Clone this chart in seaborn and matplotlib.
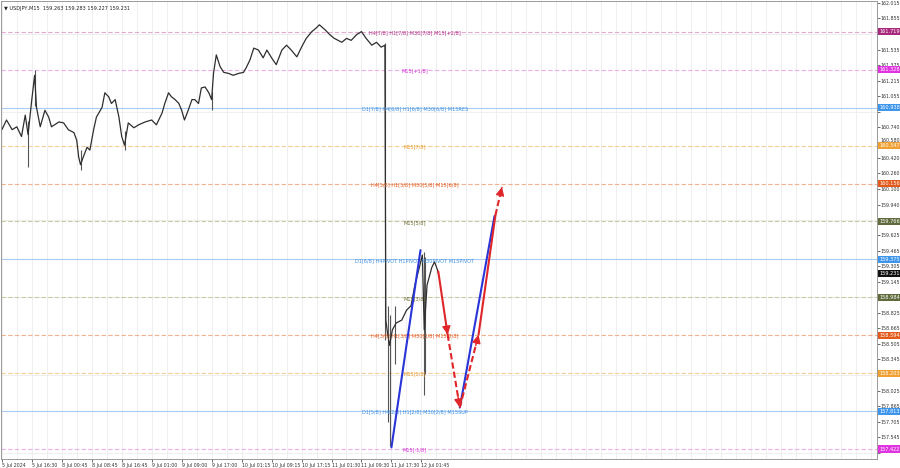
import numpy as np
import pandas as pd
import seaborn as sns
import matplotlib.pyplot as plt
from matplotlib.ticker import FixedLocator, MultipleLocator
from matplotlib.transforms import ScaledTranslation

# Header text
SYMBOL_INFO = 'USDJPY,M15  159.263 159.283 159.227 159.231'

# Price path (M15 bar index, price)
bar_idx = [0, 5, 11, 16, 21, 25, 28, 32, 35, 37, 41, 46, 50, 53, 61, 66, 71, 77, 80, 82,
           84, 87, 91, 94, 98, 101, 107, 110, 114, 117, 121, 125, 128, 131, 135, 141, 146, 153, 160, 165,
           171, 174, 178, 181, 185, 189, 192, 195, 199, 203, 206, 210, 213, 217, 221, 224, 226, 229, 233, 237,
           242, 247, 253, 258, 261, 265, 269, 274, 279, 283, 288, 293, 299, 304, 309, 315, 320, 325, 331, 336,
           339, 345, 350, 355, 363, 368, 373, 379, 384, 389, 395, 400, 405, 409, 410, 412, 414, 417, 421, 427,
           432, 437, 441, 446, 449, 451, 454, 459, 462, 465, 466]
close = [160.71, 160.81, 160.71, 160.74, 160.64, 160.86, 160.66, 161.02, 161.27, 160.94, 160.74, 160.91, 160.84, 160.74, 160.79, 160.78, 160.71, 160.68, 160.60, 160.43,
         160.35, 160.43, 160.53, 160.50, 160.71, 160.84, 160.94, 161.09, 161.05, 160.98, 161.02, 160.84, 160.64, 160.55, 160.78, 160.73, 160.76, 160.79, 160.81, 160.76,
         160.88, 160.98, 161.09, 161.05, 161.02, 160.98, 160.91, 160.81, 160.91, 161.02, 161.02, 160.98, 161.14, 161.15, 161.09, 161.02, 161.29, 161.48, 161.36, 161.30,
         161.29, 161.27, 161.29, 161.30, 161.35, 161.43, 161.55, 161.53, 161.45, 161.53, 161.45, 161.38, 161.53, 161.58, 161.53, 161.46, 161.56, 161.65, 161.72, 161.76,
         161.79, 161.74, 161.69, 161.65, 161.61, 161.65, 161.63, 161.69, 161.72, 161.65, 161.58, 161.61, 161.56, 161.58, 158.75, 158.60, 158.49, 158.65, 158.72, 158.75,
         158.85, 158.90, 159.11, 159.30, 159.42, 158.65, 159.11, 159.29, 159.35, 159.27, 159.23]

# Notable candle wicks
wick_bar = [28, 35, 84, 131, 224, 409, 412, 414, 420, 451, 452]
wick_low = [160.33, 160.95, 160.30, 160.50, 160.91, 158.55, 157.70, 157.45, 158.30, 157.98, 158.20]
wick_high = [160.80, 161.32, 160.50, 160.70, 161.10, 161.60, 158.90, 158.80, 158.90, 159.45, 159.40]

time_labels = ['5 Jul 2024', '5 Jul 16:30', '8 Jul 00:45', '8 Jul 08:45', '8 Jul 16:45',
               '9 Jul 01:00', '9 Jul 09:00', '9 Jul 17:00', '10 Jul 01:15', '10 Jul 09:15',
               '10 Jul 17:15', '11 Jul 01:30', '11 Jul 09:30', '11 Jul 17:30', '12 Jul 01:45']
time_label_bars = [0, 32, 64, 96, 128, 160, 192, 224, 256, 288, 320, 352, 384, 416, 448]

# visible price-axis labels (the rest sit behind level boxes)
price_ticks = [162.015, 161.855, 161.535, 161.375, 161.215, 161.055, 160.740, 160.580,
               160.420, 160.260, 160.100, 159.940, 159.625, 159.465, 159.305, 159.145,
               158.825, 158.665, 158.505, 158.345, 158.025, 157.865, 157.705, 157.545]
grid_ticks = [162.015, 161.855, 161.695, 161.535, 161.375, 161.215, 161.055, 160.895, 160.740, 160.580,
              160.420, 160.260, 160.100, 159.940, 159.785, 159.625, 159.465, 159.305, 159.145, 158.985,
              158.825, 158.665, 158.505, 158.345, 158.185, 158.025, 157.865, 157.705, 157.545, 157.385]

# Murrey-math style levels
levels = [161.719, 161.328, 160.938, 160.547, 160.156, 159.766, 159.375, 158.984, 158.594, 158.203, 157.813, 157.422]
level_names = ['H4[7/8] H1[7/8] M30[7/8] M15[+2/8]', 'M15[+1/8]',
               'D1[7/8] H4[6/8] H1[6/8] M30[6/8] M15RES', 'M15[7/8]',
               'H4[5/8] H1[5/8] M30[5/8] M15[6/8]', 'M15[5/8]',
               'D1[6/8] H4PIVOT H1PIVOT M30PIVOT M15PIVOT', 'M15[3/8]',
               'H4[3/8] H1[3/8] M30[3/8] M15[2/8]', 'M15[1/8]',
               'D1[5/8] H4[2/8] H1[2/8] M30[2/8] M15SUP', 'M15[-1/8]']
current_price = 159.231

# Projection paths
blue1_bar = [416, 447]
blue1_price = [157.44, 159.47]
blue2_bar = [489, 526]
blue2_price = [157.85, 159.82]
red_bar = [466, 476, 489, 509, 527, 534]
red_price = [159.25, 158.60, 157.85, 158.60, 159.83, 160.12]

# level styles: (line colour, text colour, box colour, linestyle)
level_styles = [
    ('#e3a9cf', '#b3338a', '#a8287c', '--'),
    ('#eab0ea', '#d633d6', '#e034e0', '--'),
    ('#a9cdf2', '#3d8fe0', '#3d95ec', '-'),
    ('#f5cf96', '#eb9a2a', '#f0a030', '--'),
    ('#f2b28f', '#e0581e', '#e35a1c', '--'),
    ('#c9c9a4', '#6f6f35', '#5f6b3c', '--'),
    ('#a9cdf2', '#3d8fe0', '#3d95ec', '-'),
    ('#c9c9a4', '#6f6f35', '#5f6b3c', '--'),
    ('#f2b28f', '#e0581e', '#e35a1c', '--'),
    ('#f5cf96', '#eb9a2a', '#f0a030', '--'),
    ('#a9cdf2', '#3d8fe0', '#3d95ec', '-'),
    ('#eab0ea', '#d633d6', '#e034e0', '--'),
]

sns.set_theme(style='white')
plt.rcParams['font.family'] = ['DejaVu Sans']

fig = plt.figure(figsize=(9, 4.68), dpi=100)
ax = fig.add_axes([0.001, 9 / 468, 0.973, 458 / 468])

ax.set_xlim(-1, 934)
ax.set_ylim(157.32, 162.035)

# grid
ax.xaxis.set_minor_locator(MultipleLocator(16))
ax.yaxis.set_minor_locator(FixedLocator(grid_ticks))
ax.yaxis.set_major_locator(FixedLocator(price_ticks))
ax.set_xticks(time_label_bars)
ax.grid(which='both', axis='x', color='#ececec', lw=0.6)
ax.grid(which='minor', axis='y', color='#ececec', lw=0.6)

# level lines and labels
for lv, name, st in zip(levels, level_names, level_styles):
    lc, tc, bc, ls = st
    ax.axhline(lv, color=lc, lw=0.8, ls=ls, dashes=(4, 2) if ls == '--' else (None, None), zorder=1)
    ax.text(441, lv - 0.01, name, color=tc, fontsize=3.6, ha='center', va='center', zorder=3)
    ax.text(1.003, lv, f'{lv:.3f}', transform=ax.get_yaxis_transform(), color='white', fontsize=3.6,
            ha='left', va='center', zorder=5, clip_on=False,
            bbox=dict(boxstyle='square,pad=0.22', fc=bc, ec='none'))

ax.text(1.003, current_price, f'{current_price:.3f}', transform=ax.get_yaxis_transform(), color='white',
        fontsize=3.6, ha='left', va='center', zorder=6, clip_on=False,
        bbox=dict(boxstyle='square,pad=0.22', fc='#111111', ec='none'))

# price
ax.vlines(wick_bar, wick_low, wick_high, color='#555555', lw=0.8, zorder=2)
sns.lineplot(x=bar_idx, y=close, ax=ax, color='#2e2e2e', lw=0.9, zorder=2, sort=False)

# projections
ax.plot(blue1_bar, blue1_price, color='#2a35d8', lw=1.5, zorder=4)
ax.plot(blue2_bar, blue2_price, color='#2a35d8', lw=1.5, zorder=4)
red_ls = ['-', '--', '--', '-', '--']
for i in range(len(red_bar) - 1):
    ax.plot(red_bar[i:i + 2], red_price[i:i + 2], color='#e0262a', lw=1.5, ls=red_ls[i],
            dashes=(3, 1.5) if red_ls[i] == '--' else (None, None), zorder=4)
for i in [0, 1, 2, 4]:
    x0, y0 = red_bar[i], red_price[i]
    x1, y1 = red_bar[i + 1], red_price[i + 1]
    ax.annotate('', xy=(x1, y1), xytext=(x1 - 0.15 * (x1 - x0), y1 - 0.15 * (y1 - y0)),
                arrowprops=dict(arrowstyle='-|>,head_length=0.5,head_width=0.25', color='#e0262a',
                                lw=1.0, mutation_scale=10, shrinkA=0, shrinkB=0), zorder=4)

# axes styling
ax.yaxis.tick_right()
ax.set_yticklabels([f'{t:.3f}' for t in price_ticks])
ax.set_xticklabels(time_labels, ha='left')
ax.tick_params(axis='y', which='major', labelsize=3.4, length=2, width=0.5, pad=1, colors='#333333', right=True)
ax.tick_params(axis='y', which='minor', length=2, width=0.5, colors='#333333', right=True, left=False)
ax.tick_params(axis='x', which='major', labelsize=3.4, length=2, width=0.5, pad=1, colors='#333333', bottom=True)
ax.tick_params(axis='x', which='minor', length=0)
for s in ax.spines.values():
    s.set_color('#999999')
    s.set_linewidth(0.7)

# nudge the label that sits just above a level box
for lbl in ax.get_yticklabels():
    if lbl.get_text() == '160.580':
        lbl.set_transform(lbl.get_transform() + ScaledTranslation(0, 2.5 / 100, fig.dpi_scale_trans))

ax.text(0.004, 0.99, '\u25bc ' + SYMBOL_INFO, transform=ax.transAxes, fontsize=3.6, color='#222222',
        ha='left', va='top')

fig.savefig('out.png', dpi=100, facecolor='white')
